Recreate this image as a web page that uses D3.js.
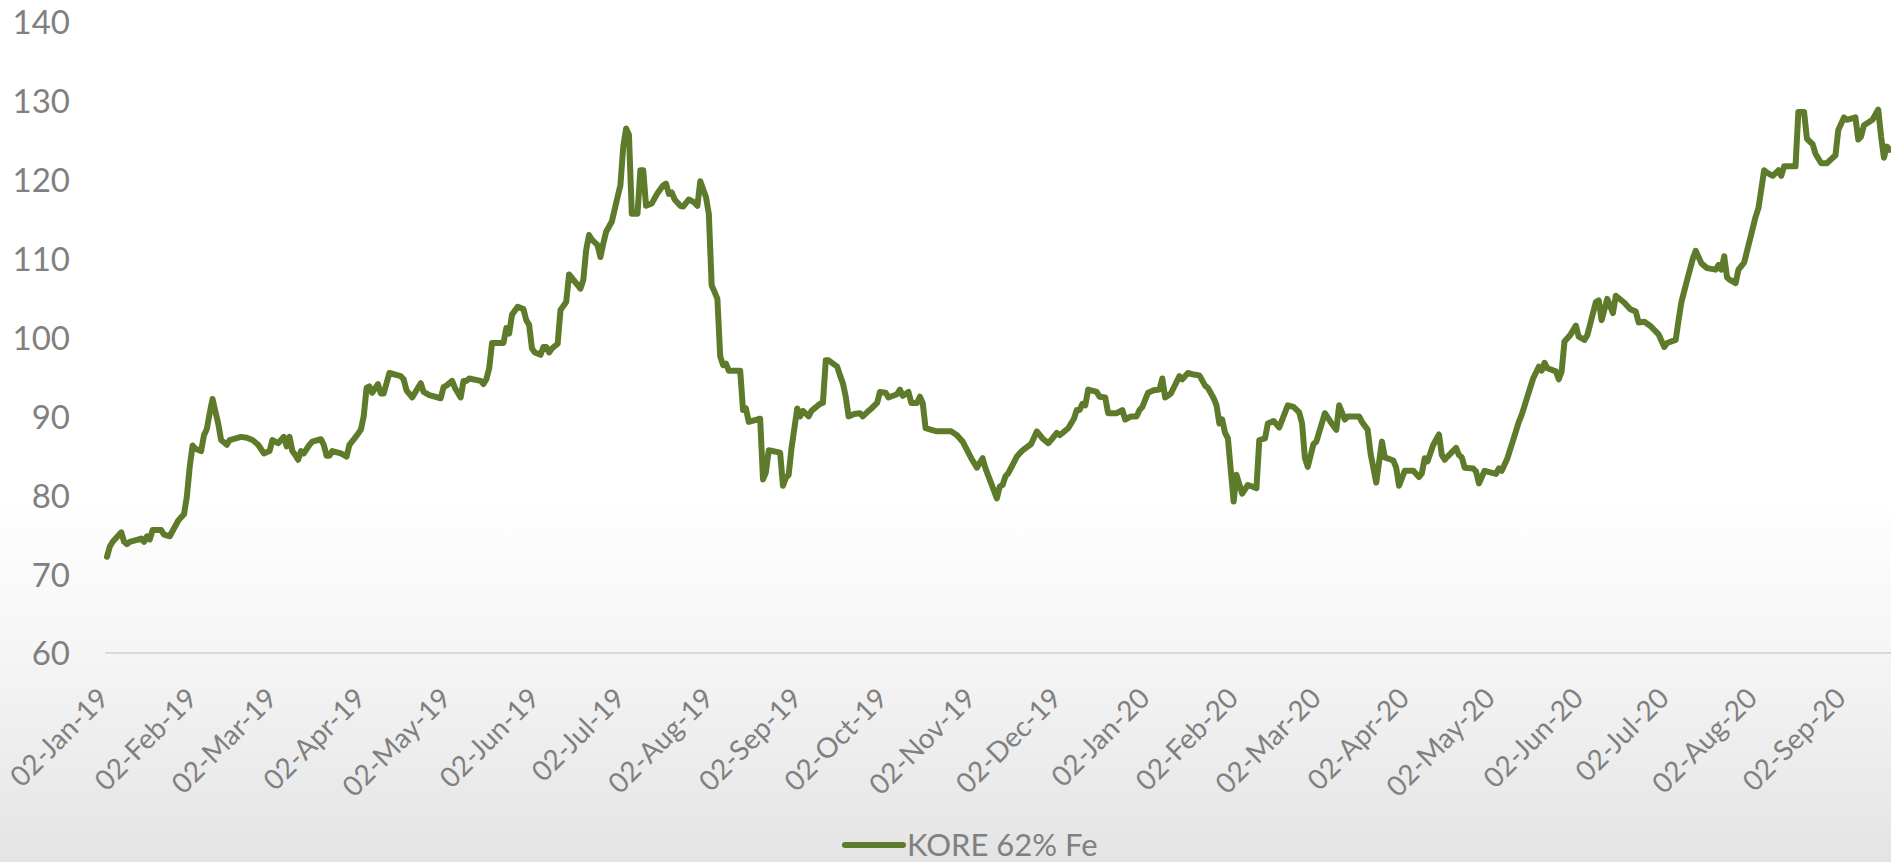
<!DOCTYPE html>
<html>
<head>
<meta charset="utf-8">
<script src="https://cdn.jsdelivr.net/npm/d3@7"></script>
<style>
  html, body { margin: 0; padding: 0; overflow: hidden; background: #fff; }
  svg { display: block; }
</style>
</head>
<body>
<svg id="chart" width="1891" height="862"></svg>
<script>
// KORE 62% Fe iron ore price, trading dates and closing values
const dates = [
  "2019-01-02","2019-01-03","2019-01-04","2019-01-07","2019-01-08","2019-01-09","2019-01-10","2019-01-14","2019-01-15","2019-01-16",
  "2019-01-17","2019-01-18","2019-01-21","2019-01-22","2019-01-24","2019-01-27","2019-01-28","2019-01-29","2019-01-30","2019-01-31",
  "2019-02-01","2019-02-02","2019-02-04","2019-02-05","2019-02-06","2019-02-07","2019-02-08","2019-02-09","2019-02-10","2019-02-11",
  "2019-02-13","2019-02-14","2019-02-18","2019-02-20","2019-02-22","2019-02-24","2019-02-26","2019-02-28",
  "2019-03-01","2019-03-03","2019-03-05","2019-03-06","2019-03-07","2019-03-08","2019-03-09","2019-03-10","2019-03-11","2019-03-12",
  "2019-03-14","2019-03-15","2019-03-18","2019-03-19","2019-03-20","2019-03-21","2019-03-22","2019-03-25","2019-03-27","2019-03-28","2019-03-30",
  "2019-04-01","2019-04-02","2019-04-03","2019-04-04","2019-04-05","2019-04-07","2019-04-08","2019-04-09","2019-04-11","2019-04-15",
  "2019-04-16","2019-04-17","2019-04-19","2019-04-22","2019-04-23","2019-04-25","2019-04-29","2019-04-30",
  "2019-05-01","2019-05-03","2019-05-04","2019-05-06","2019-05-07","2019-05-08","2019-05-09","2019-05-13","2019-05-14","2019-05-15",
  "2019-05-16","2019-05-17","2019-05-21","2019-05-22","2019-05-23","2019-05-24","2019-05-26","2019-05-28","2019-05-29","2019-05-30","2019-05-31",
  "2019-06-01","2019-06-03","2019-06-04","2019-06-05","2019-06-06","2019-06-07","2019-06-09","2019-06-10","2019-06-12","2019-06-13",
  "2019-06-15","2019-06-17","2019-06-18","2019-06-19","2019-06-20","2019-06-21","2019-06-23","2019-06-24","2019-06-25","2019-06-26",
  "2019-06-28","2019-06-30",
  "2019-07-01","2019-07-02","2019-07-03","2019-07-04","2019-07-05","2019-07-07","2019-07-08","2019-07-09","2019-07-10","2019-07-12",
  "2019-07-14","2019-07-16","2019-07-17","2019-07-18","2019-07-19","2019-07-20","2019-07-22","2019-07-23","2019-07-25","2019-07-27",
  "2019-07-28","2019-07-29","2019-07-31",
  "2019-08-01","2019-08-02","2019-08-03","2019-08-04","2019-08-05","2019-08-06","2019-08-07","2019-08-08","2019-08-12","2019-08-13",
  "2019-08-14","2019-08-15","2019-08-19","2019-08-20","2019-08-21","2019-08-22","2019-08-26","2019-08-27","2019-08-28","2019-08-29","2019-08-30",
  "2019-09-01","2019-09-02","2019-09-03","2019-09-05","2019-09-06","2019-09-09","2019-09-10","2019-09-11","2019-09-12","2019-09-15",
  "2019-09-16","2019-09-17","2019-09-18","2019-09-19","2019-09-21","2019-09-23","2019-09-24","2019-09-26","2019-09-27","2019-09-29","2019-09-30",
  "2019-10-02","2019-10-03","2019-10-06","2019-10-07","2019-10-08","2019-10-10","2019-10-11","2019-10-13","2019-10-14","2019-10-15",
  "2019-10-16","2019-10-18","2019-10-20","2019-10-25","2019-10-27","2019-10-29",
  "2019-11-01","2019-11-03","2019-11-05","2019-11-06","2019-11-08","2019-11-10","2019-11-11","2019-11-12","2019-11-13","2019-11-14",
  "2019-11-17","2019-11-19","2019-11-22","2019-11-24","2019-11-26","2019-11-28","2019-11-29",
  "2019-12-01","2019-12-02","2019-12-03","2019-12-05","2019-12-07","2019-12-08","2019-12-09","2019-12-10","2019-12-11","2019-12-12",
  "2019-12-15","2019-12-16","2019-12-18","2019-12-19","2019-12-22","2019-12-24","2019-12-25","2019-12-27","2019-12-29","2019-12-30","2019-12-31",
  "2020-01-02","2020-01-04","2020-01-06","2020-01-07","2020-01-08","2020-01-10","2020-01-13","2020-01-14","2020-01-16","2020-01-18",
  "2020-01-20","2020-01-22","2020-01-23","2020-01-25","2020-01-26","2020-01-27","2020-01-28","2020-01-29","2020-01-30",
  "2020-02-01","2020-02-02","2020-02-04","2020-02-06","2020-02-09","2020-02-10","2020-02-12","2020-02-13","2020-02-15","2020-02-17",
  "2020-02-20","2020-02-22","2020-02-24","2020-02-25","2020-02-26","2020-02-27","2020-02-29",
  "2020-03-01","2020-03-04","2020-03-06","2020-03-08","2020-03-09","2020-03-11","2020-03-12","2020-03-16","2020-03-17","2020-03-19",
  "2020-03-20","2020-03-22","2020-03-24","2020-03-25","2020-03-28","2020-03-29","2020-03-30",
  "2020-04-01","2020-04-04","2020-04-06","2020-04-07","2020-04-08","2020-04-09","2020-04-11","2020-04-13","2020-04-14","2020-04-15",
  "2020-04-16","2020-04-19","2020-04-20","2020-04-21","2020-04-22","2020-04-25","2020-04-26","2020-04-27","2020-04-29",
  "2020-05-03","2020-05-04","2020-05-05","2020-05-07","2020-05-09","2020-05-11","2020-05-12","2020-05-14","2020-05-16","2020-05-18",
  "2020-05-19","2020-05-20","2020-05-21","2020-05-24","2020-05-25","2020-05-26","2020-05-27","2020-05-29","2020-05-31",
  "2020-06-01","2020-06-03","2020-06-04","2020-06-07","2020-06-08","2020-06-09","2020-06-11","2020-06-13","2020-06-14","2020-06-17",
  "2020-06-19","2020-06-21","2020-06-22","2020-06-24","2020-06-26","2020-06-29","2020-06-30",
  "2020-07-01","2020-07-02","2020-07-05","2020-07-06","2020-07-07","2020-07-09","2020-07-11","2020-07-12","2020-07-14","2020-07-16",
  "2020-07-19","2020-07-20","2020-07-21","2020-07-22","2020-07-23","2020-07-24","2020-07-26","2020-07-27","2020-07-29","2020-07-31",
  "2020-08-02","2020-08-03","2020-08-05","2020-08-06","2020-08-08","2020-08-10","2020-08-11","2020-08-12","2020-08-16","2020-08-17",
  "2020-08-19","2020-08-20","2020-08-22","2020-08-23","2020-08-25","2020-08-27","2020-08-30","2020-08-31",
  "2020-09-02","2020-09-03","2020-09-06","2020-09-07","2020-09-08","2020-09-09","2020-09-12","2020-09-14","2020-09-15","2020-09-16",
  "2020-09-17","2020-09-18"
];

const kore = [
  72.2,73.5,74.1,75.3,74.1,73.8,74.1,74.5,74.1,74.8,
  74.4,75.6,75.6,75.0,74.8,76.8,77.2,77.6,79.8,83.6,
  86.3,85.9,85.6,87.6,88.4,90.4,92.2,90.6,89.1,87.0,
  86.4,87.0,87.4,87.3,87.0,86.4,85.3,85.6,
  87.0,86.6,87.4,86.2,87.4,85.6,85.1,84.5,85.6,85.3,
  86.4,86.8,87.1,86.4,85.0,85.0,85.6,85.3,84.9,86.4,87.3,
  88.3,90.0,93.6,93.8,93.0,94.1,92.9,92.9,95.5,95.1,
  94.7,93.3,92.4,94.2,93.1,92.7,92.3,93.7,
  93.9,94.5,93.6,92.4,94.5,94.5,94.8,94.5,94.1,94.7,
  96.1,99.3,99.3,101.2,100.5,102.9,103.9,103.6,102.2,101.6,98.6,
  98.1,97.8,98.8,98.8,98.1,98.6,99.2,103.5,104.5,108.0,
  107.1,106.2,107.3,111.1,113.0,112.4,111.7,110.2,111.9,113.4,
  114.7,117.8,
  119.3,124.2,126.5,125.7,115.7,115.7,121.2,121.2,116.7,117.0,
  118.3,119.3,119.5,118.2,118.4,117.5,116.7,116.6,117.5,117.1,
  116.7,119.8,117.8,
  115.7,106.6,105.8,104.9,97.6,96.5,96.7,95.8,95.8,90.8,
  91.0,89.3,89.7,82.0,82.9,85.7,85.4,81.2,82.2,82.6,86.0,
  91.0,90.0,90.7,90.0,90.7,91.6,91.7,97.1,97.1,96.3,
  95.2,94.2,92.5,90.0,90.3,90.4,90.0,90.7,91.0,91.7,93.1,
  93.0,92.4,92.8,93.4,92.6,93.1,91.7,91.7,92.5,91.7,
  88.5,88.3,88.1,88.1,87.6,86.8,
  84.7,83.5,84.7,83.4,81.5,79.6,81.1,81.3,82.4,82.8,
  84.9,85.7,86.5,88.1,87.2,86.6,87.0,
  87.9,87.6,87.9,88.5,89.7,90.8,90.8,91.6,91.4,93.4,
  93.1,92.5,92.4,90.4,90.4,90.8,89.6,90.0,90.0,90.8,91.2,
  93.0,93.3,93.4,94.8,92.4,92.9,95.1,94.7,95.5,95.3,
  95.2,93.9,93.6,92.3,91.4,89.1,89.6,87.9,87.2,
  79.2,82.6,80.2,81.3,80.9,87.0,87.2,89.1,89.4,88.6,
  91.4,91.2,90.5,89.1,84.7,83.6,86.5,
  86.8,90.4,89.3,88.3,91.4,89.6,90.0,90.0,89.3,88.3,
  85.3,81.6,86.8,84.8,84.4,83.5,81.2,
  83.1,83.1,82.3,82.8,84.7,84.3,86.4,87.7,85.1,84.5,
  84.9,86.0,85.1,84.8,83.5,83.4,83.0,81.5,83.1,
  82.7,83.4,83.1,84.7,87.0,89.3,90.2,92.5,94.8,96.3,
  95.8,96.8,96.1,95.7,94.7,95.7,99.5,100.3,101.5,
  100.1,99.7,100.3,104.5,104.7,102.2,104.9,103.1,105.3,104.4,
  103.6,103.3,101.9,102.0,101.5,100.4,99.6,
  98.8,99.3,99.7,102.2,104.5,107.3,110.0,111.0,109.4,108.8,
  108.6,109.2,108.6,110.3,107.6,107.3,106.9,108.6,109.5,112.4,
  115.3,116.4,121.2,120.9,120.5,121.2,120.5,121.7,121.7,128.6,
  128.6,125.2,124.5,123.3,122.1,122.1,123.1,126.3,
  127.9,127.6,127.9,125.1,125.5,126.9,127.6,128.9,125.5,122.8,
  124.2,123.8
];

// Month labels on the date axis
const monthTicks = [
  "2019-01-02","2019-02-02","2019-03-02","2019-04-02","2019-05-02","2019-06-02","2019-07-02",
  "2019-08-02","2019-09-02","2019-10-02","2019-11-02","2019-12-02","2020-01-02","2020-02-02",
  "2020-03-02","2020-04-02","2020-05-02","2020-06-02","2020-07-02","2020-08-02","2020-09-02"
];
const yTicks = [60, 70, 80, 90, 100, 110, 120, 130, 140];
const seriesName = "KORE 62% Fe";

const W = 1891, H = 862;
const FONT = "Lato, 'Open Sans', sans-serif";
const TEXT = "#808080";
const GREEN = "#5e7b2b";

const parse = d3.utcParse("%Y-%m-%d");
const fmt = d3.utcFormat("%d-%b-%y");

const x = d3.scaleUtc()
  .domain([parse("2019-01-02"), parse("2020-09-02")])
  .range([107, 1844]);
const y = d3.scaleLinear().domain([60, 140]).range([653, 22]);

const svg = d3.select("#chart");

// soft white-to-grey backdrop
const grad = svg.append("defs").append("linearGradient")
  .attr("id", "bg").attr("x1", 0).attr("y1", 0).attr("x2", 0).attr("y2", 1);
grad.selectAll("stop")
  .data([[0, "#ffffff"], [0.58, "#ffffff"], [0.76, "#f5f5f5"], [1, "#e4e4e4"]])
  .join("stop")
  .attr("offset", d => d[0])
  .attr("stop-color", d => d[1]);
svg.append("rect").attr("width", W).attr("height", H).attr("fill", "url(#bg)");

// horizontal axis line at the minimum value
svg.append("line")
  .attr("x1", 105).attr("x2", W)
  .attr("y1", y(60)).attr("y2", y(60))
  .attr("stroke", "#d9d9d9").attr("stroke-width", 2);

// value axis
const gy = svg.append("g")
  .attr("transform", "translate(70,0)")
  .call(d3.axisLeft(y).tickValues(yTicks).tickSize(0).tickPadding(0).tickFormat(d3.format("d")));
gy.select(".domain").remove();
gy.selectAll(".tick text")
  .attr("fill", TEXT)
  .attr("font-family", FONT)
  .attr("font-size", 33)
  .attr("dy", "0.36em");

// date axis with slanted month labels
const gx = svg.append("g")
  .attr("transform", `translate(0,${y(60)})`)
  .call(d3.axisBottom(x).tickValues(monthTicks.map(parse)).tickSize(0).tickFormat(fmt));
gx.select(".domain").remove();
gx.selectAll(".tick text")
  .attr("x", 0).attr("y", 0).attr("dy", 0)
  .attr("text-anchor", "end")
  .attr("transform", "translate(3,47) rotate(-45)")
  .attr("fill", TEXT)
  .attr("font-family", FONT)
  .attr("font-size", 28);

// price line
const points = dates.map((d, i) => ({ date: parse(d), value: kore[i] }));
svg.append("path")
  .datum(points)
  .attr("fill", "none")
  .attr("stroke", GREEN)
  .attr("stroke-width", 6)
  .attr("stroke-linejoin", "round")
  .attr("stroke-linecap", "round")
  .attr("d", d3.line().x(d => x(d.date)).y(d => y(d.value)));

// legend
const lg = svg.append("g").attr("transform", "translate(845,845)");
lg.append("line")
  .attr("x1", 0).attr("x2", 58).attr("y1", 0).attr("y2", 0)
  .attr("stroke", GREEN).attr("stroke-width", 6).attr("stroke-linecap", "round");
lg.append("text")
  .attr("x", 62).attr("y", 0).attr("dy", "0.35em")
  .attr("fill", TEXT)
  .attr("font-family", FONT)
  .attr("font-size", 31)
  .text(seriesName);
</script>
</body>
</html>
